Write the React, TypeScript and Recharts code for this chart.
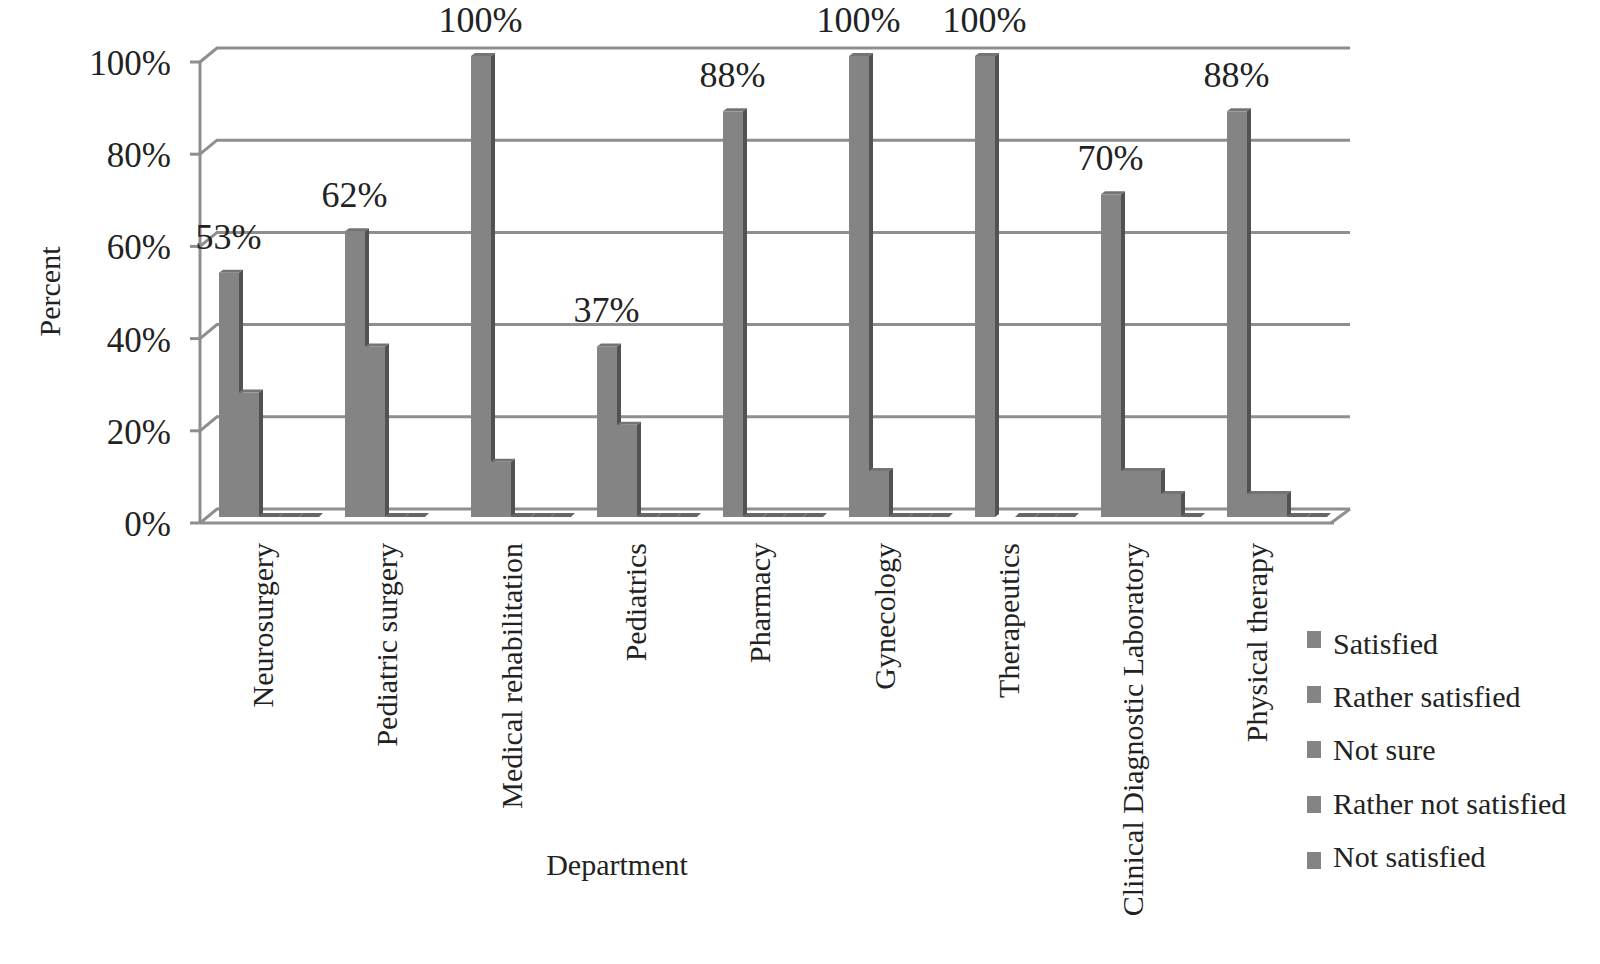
import React from "react";
import { BarChart, Bar, XAxis, YAxis, CartesianGrid, Legend, LabelList } from "recharts";

const departments = ["Neurosurgery", "Pediatric surgery", "Medical rehabilitation", "Pediatrics", "Pharmacy", "Gynecology", "Therapeutics", "Clinical Diagnostic Laboratory", "Physical therapy"];
const satisfied = [53, 62, 100, 37, 88, 100, 100, 70, 88];
const ratherSatisfied = [27, 37, 12, 20, 0, 10, null, 10, 5];
const notSure = [0, 0, 0, 0, 0, 0, 0, 10, 5];
const ratherNotSatisfied = [0, 0, 0, 0, 0, 0, 0, 5, 0];
const notSatisfied = [0, null, 0, 0, 0, 0, 0, 0, 0];
const percentTicks = [0, 20, 40, 60, 80, 100];

const rows = departments.map((department, i) => ({
  department,
  satisfied: satisfied[i],
  ratherSatisfied: ratherSatisfied[i],
  notSure: notSure[i],
  ratherNotSatisfied: ratherNotSatisfied[i],
  notSatisfied: notSatisfied[i],
}));

const FONT = '"Liberation Serif", serif';
const INK = "#222222";
const GRID = "#8e8e8e";
const FRONT = "#848484";
const SIDE = "#525252";
const CAP = "#747474";
const SHIFT_X = 5;
const SHIFT_Y = -6;
const DEPTH_X = 4;
const DEPTH_Y = 3;
const WALL_X = 17;
const WALL_Y = -14;

const Bar3D = (props: any) => {
  const { x, y, width, height, payload, dataKey } = props;
  if (payload && dataKey && payload[dataKey] == null) return <g />;
  const left = x + SHIFT_X;
  const top = y + SHIFT_Y;
  const right = left + width;
  const bottom = top + height;
  if (height < 0.5) {
    return (
      <polygon
        points={`${left},${bottom} ${right},${bottom} ${right + DEPTH_X},${bottom - 4} ${left + DEPTH_X},${bottom - 4}`}
        fill="#666666"
      />
    );
  }
  return (
    <g>
      <polygon points={`${left},${top} ${left + DEPTH_X},${top - DEPTH_Y} ${right + DEPTH_X},${top - DEPTH_Y} ${right},${top}`} fill={CAP} />
      <polygon points={`${right},${top} ${right + DEPTH_X},${top - DEPTH_Y} ${right + DEPTH_X},${bottom - DEPTH_Y} ${right},${bottom}`} fill={SIDE} />
      <rect x={left} y={top} width={width} height={height} fill={FRONT} />
    </g>
  );
};

const wallLine = (props: any) => {
  const { x1, y1, x2 } = props;
  const isFloor = y1 > 520;
  return (
    <g key={`wall-${y1}`}>
      <polyline points={`${x1},${y1} ${x1 + WALL_X},${y1 + WALL_Y} ${x2 + 16},${y1 + WALL_Y}`} fill="none" stroke={GRID} strokeWidth={3} />
      {isFloor ? <line x1={x2 - 3} y1={y1} x2={x2 + 16} y2={y1 + WALL_Y} stroke={GRID} strokeWidth={3} /> : null}
    </g>
  );
};

const PercentTick = (props: any) => {
  const { x, y, payload } = props;
  return (
    <text x={x + 1} y={y + 13} textAnchor="end" fontFamily={FONT} fontSize={35} fill={INK}>
      {`${payload.value}%`}
    </text>
  );
};

const DepartmentTick = (props: any) => {
  const { x, y, payload } = props;
  const px = 273 + (x - 263) * (124.3 / 126);
  const py = y + 12;
  return (
    <text x={px} y={py} textAnchor="end" transform={`rotate(-90 ${px} ${py})`} fontFamily={FONT} fontSize={30} fill={INK}>
      {payload.value}
    </text>
  );
};

const PercentLabel = (props: any) => {
  const { x, y, value } = props;
  return (
    <text x={x + 14.5} y={y - 30} textAnchor="middle" fontFamily={FONT} fontSize={36} fill={INK}>
      {`${value}%`}
    </text>
  );
};

const LegendBox = (props: any) => (
  <div style={{ fontFamily: FONT, fontSize: 30, color: INK, whiteSpace: "nowrap" }}>
    {props.payload.map((item: any, i: number) => (
      <div key={item.value} style={{ display: "flex", alignItems: "flex-start", height: 53.2, lineHeight: "34px" }}>
        <span style={{ display: "inline-block", width: 14, height: 17, marginTop: 3.5 + 2.1 * i, marginRight: 12, background: item.color }} />
        <span>{item.value}</span>
      </div>
    ))}
  </div>
);

export default function App() {
  return (
    <div style={{ position: "absolute", left: 0, top: 0, width: 1600, height: 964, background: "#fff" }}>
      <BarChart
        width={1600}
        height={964}
        data={rows}
        margin={{ top: 62, right: 266, bottom: 0, left: 0 }}
        barCategoryGap={14}
        barGap={0}
      >
        <CartesianGrid vertical={false} horizontal={wallLine} />
        <XAxis
          dataKey="department"
          interval={0}
          height={441}
          tickLine={false}
          axisLine={{ stroke: GRID, strokeWidth: 3 }}
          tick={DepartmentTick}
          label={{ value: "Department", position: "insideTop", offset: 0, dx: -150, dy: 331, fontFamily: FONT, fontSize: 30, fill: INK }}
        />
        <YAxis
          width={200}
          domain={[0, 100]}
          ticks={percentTicks}
          tickSize={10}
          tickMargin={20}
          axisLine={{ stroke: GRID, strokeWidth: 3 }}
          tickLine={{ stroke: GRID, strokeWidth: 3 }}
          tick={PercentTick}
          label={{ value: "Percent", angle: -90, position: "insideLeft", offset: 0, dx: 49, dy: -1, textAnchor: "middle", fontFamily: FONT, fontSize: 30, fill: INK }}
        />
        <Legend
          layout="horizontal"
          align="center"
          verticalAlign="middle"
          itemSorter={null}
          content={LegendBox}
          wrapperStyle={{ position: "absolute", left: 1307, top: 627, width: 280, height: 270 }}
        />
        <Bar dataKey="satisfied" name="Satisfied" fill={FRONT} shape={Bar3D} isAnimationActive={false}>
          <LabelList dataKey="satisfied" content={PercentLabel} />
        </Bar>
        <Bar dataKey="ratherSatisfied" name="Rather satisfied" fill={FRONT} shape={Bar3D} isAnimationActive={false} />
        <Bar dataKey="notSure" name="Not sure" fill={FRONT} shape={Bar3D} isAnimationActive={false} />
        <Bar dataKey="ratherNotSatisfied" name="Rather not satisfied" fill={FRONT} shape={Bar3D} isAnimationActive={false} />
        <Bar dataKey="notSatisfied" name="Not satisfied" fill={FRONT} shape={Bar3D} isAnimationActive={false} />
      </BarChart>
    </div>
  );
}
